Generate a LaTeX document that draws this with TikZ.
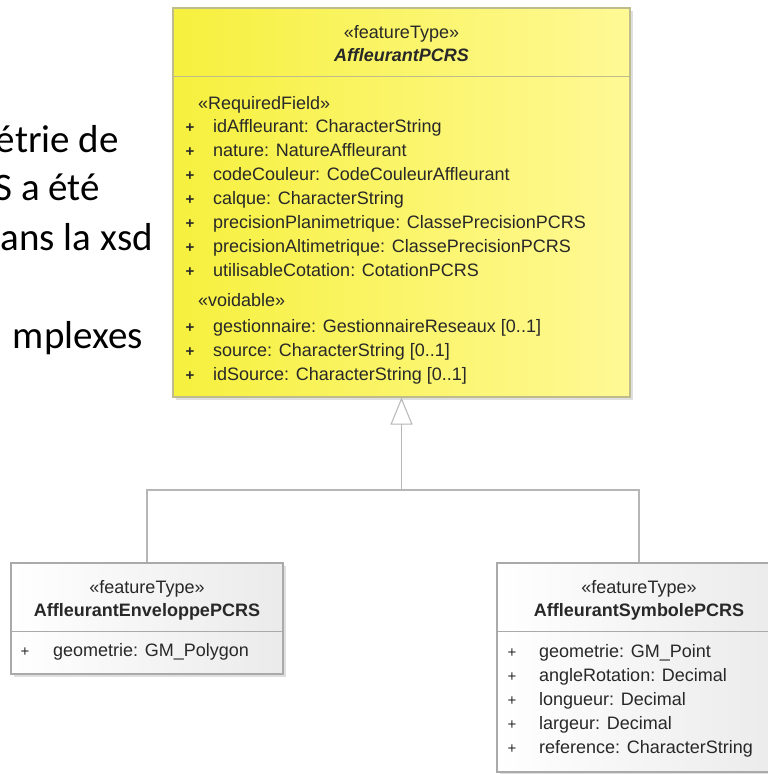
\documentclass[tikz,border=0pt]{standalone}
\usepackage{fontspec}
\setmainfont{Liberation Sans}
\newfontfamily\slidefont{Carlito}
\usetikzlibrary{positioning,shadows,arrows.meta}

\definecolor{featyellow}{RGB}{246,240,62}
\definecolor{featyellowlight}{RGB}{255,249,150}
\definecolor{featborder}{RGB}{190,188,140}
\definecolor{greyborder}{RGB}{170,170,170}
\definecolor{linkgrey}{RGB}{182,182,182}
\definecolor{umltext}{RGB}{40,40,40}

\tikzset{
	featurebox/.style={draw=featborder, line width=1.2pt,
		left color=featyellow, right color=featyellowlight,
		drop shadow={shadow xshift=3pt, shadow yshift=-3pt, opacity=0.25}},
	plainbox/.style={draw=greyborder, line width=1.2pt,
		left color=white, right color=black!8,
		drop shadow={shadow xshift=3pt, shadow yshift=-3pt, opacity=0.25}},
	stereo/.style={font=\fontsize{18}{21}\selectfont, text=umltext, anchor=base, inner sep=0pt},
	classname/.style={font=\fontsize{18}{21}\selectfont\bfseries, text=umltext, anchor=base, inner sep=0pt},
	attr/.style={font=\fontsize{18}{21}\selectfont, text=umltext, anchor=base west, inner sep=0pt},
	vis/.style={font=\fontsize{15}{18}\selectfont, text=umltext, anchor=base, inner sep=0pt},
	genline/.style={draw=linkgrey, line width=1.4pt},
	slide/.style={font=\slidefont\fontsize{39}{47}\selectfont, anchor=base east, inner sep=0pt},
}

\begin{document}
\begin{tikzpicture}[x=1pt, y=-1pt]
\clip (0,0) rectangle (768,774);
\fill[white] (0,0) rectangle (768,774);

% Slide text (cut off)
\node[slide] (line1) at (119,152) {étrie de};
\node[slide] (line2) at (100,200) {S a été};
\node[slide] (line3) at (153,250) {ans la xsd};
\node[slide] (line4) at (143,348) {mplexes};

% AffleurantPCRS
\node [featurebox,
	minimum width=457pt,
	minimum height=389pt
] (affleurant) at (401.5,202.5) {};
\draw[featborder, line width=1pt] (affleurant.west |- 0,76) -- (affleurant.east |- 0,76);
\node[stereo] (affleurant_st) at (401.5,38) {«featureType»};
\node[classname, font=\fontsize{18}{21}\selectfont\bfseries\itshape] (affleurant_name) at (401.5,61) {AffleurantPCRS};

\node[attr] (required) at (198,109) {«RequiredField»};
\foreach \attr [count=\i from 0] in {idAffleurant: CharacterString, nature: NatureAffleurant,
	codeCouleur: CodeCouleurAffleurant, calque: CharacterString,
	precisionPlanimetrique: ClassePrecisionPCRS, precisionAltimetrique: ClassePrecisionPCRS,
	utilisableCotation: CotationPCRS} {
	\node[vis, font=\fontsize{15}{18}\selectfont\bfseries] (reqplus\i) at (190,132+24*\i) {+};
	\node[attr] (req\i) at (213,132+24*\i) {\attr};
}

\node[attr] (voidable) at (198,306) {«voidable»};
\foreach \attr [count=\i from 0] in {gestionnaire: GestionnaireReseaux [0..1],
	source: CharacterString [0..1], idSource: CharacterString [0..1]} {
	\node[vis, font=\fontsize{15}{18}\selectfont\bfseries] (voidplus\i) at (190,332+24*\i) {+};
	\node[attr] (void\i) at (213,332+24*\i) {\attr};
}

% AffleurantEnveloppePCRS
\node [plainbox,
	minimum width=272pt,
	minimum height=111pt
] (enveloppe) at (147,618.5) {};
\draw[greyborder, line width=1pt] (enveloppe.west |- 0,631) -- (enveloppe.east |- 0,631);
\node[stereo] (enveloppe_st) at (147,593) {«featureType»};
\node[classname] (enveloppe_name) at (147,616) {AffleurantEnveloppePCRS};
\node[vis] (envplus0) at (25,656) {+};
\node[attr] (env0) at (53,656) {geometrie: GM\_Polygon};

% AffleurantSymbolePCRS
\node [plainbox,
	minimum width=284pt,
	minimum height=209pt
] (symbole) at (639,667.5) {};
\draw[greyborder, line width=1pt] (symbole.west |- 0,631) -- (symbole.east |- 0,631);
\node[stereo] (symbole_st) at (639,593) {«featureType»};
\node[classname] (symbole_name) at (639,616) {AffleurantSymbolePCRS};
\foreach \attr [count=\i from 0] in {geometrie: GM\_Point, angleRotation: Decimal,
	longueur: Decimal, largeur: Decimal, reference: CharacterString} {
	\node[vis] (symplus\i) at (512,657+24*\i) {+};
	\node[attr] (sym\i) at (539,657+24*\i) {\attr};
}

% Generalisation
\coordinate (fork) at (401.5,490);
\draw[genline] (enveloppe.north) |- (fork);
\draw[genline] (symbole.north) |- (fork);
\draw[genline, -{Triangle[fill=white, length=27pt, width=22pt, line width=1pt]}] (fork) -- (affleurant.south);

\end{tikzpicture}
\end{document}
